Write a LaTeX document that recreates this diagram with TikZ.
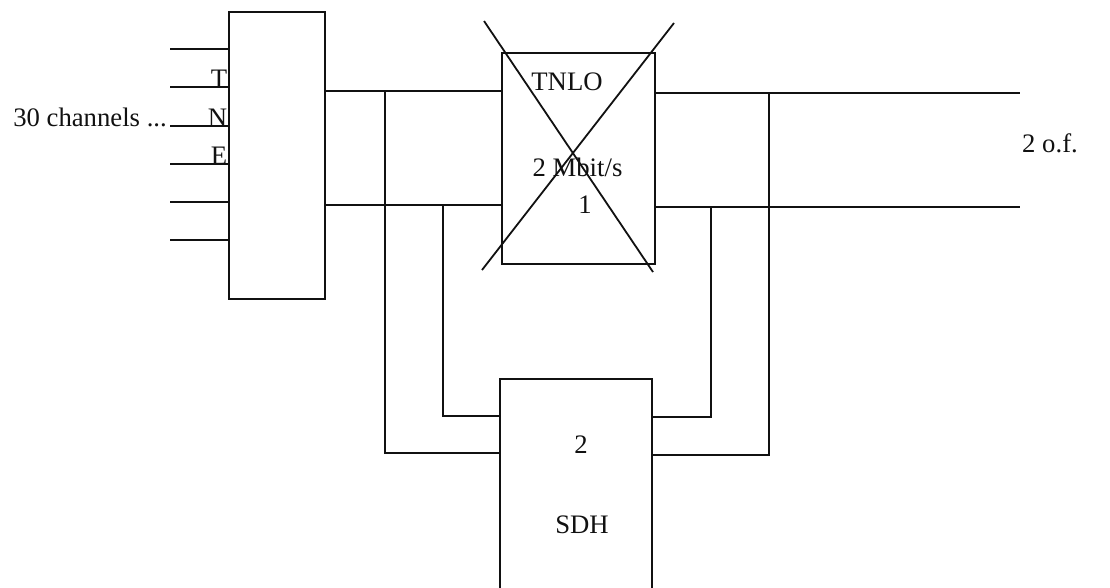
\documentclass[tikz,border=0pt]{standalone}
\usepackage{fontspec}
\setmainfont{Liberation Serif}
\usetikzlibrary{calc}
\definecolor{tnInk}{HTML}{111111}
\newcommand{\TNType}{\rmfamily\fontsize{26.7}{31}\selectfont}
\tikzset{tn/base/.style={x=1pt,y=1pt,line cap=butt,line join=miter,
  every node/.style={font=\TNType,inner sep=0pt,text=tnInk}},
  tn/wire/.style={draw=tnInk,line width=1.4pt},
  tn/cross/.style={draw=tnInk,line width=1.8pt},
  tn/box/.style={draw=tnInk,fill=white,line width=1.4pt,minimum width=#1pt}}
\begin{document}
\begin{tikzpicture}[tn/base,y=-1pt]
  \clip (0,0) rectangle (1110,587);
  % multiplexer with its six inputs
  \node[tn/box=96,minimum height=287pt] (tne) at (277,155.5) {};
  \foreach \y/\name in {49/in1,87/in2,126/in3,164/in4,202/in5,240/in6}{
    \coordinate (\name) at (170,\y);
    \draw[tn/wire] (\name) -- (tne.west |- \name);}
  \node[anchor=base east] (chan) at ($(in3)+(-3,0)$) {30 channels ...};
  \foreach \y/\letter/\name in {87/T/lT,126/N/lN,164/E/lE}
    \node[anchor=base east] (\name) at ($(tne.west |- 0,\y)+(-1,0)$) {\letter};
  % crossed out 2 Mbit/s box
  \node[tn/box=153,minimum height=211pt] (tnlo) at (578.5,158.5) {};
  \node (tnloname) at (567,82) {TNLO};
  \node (tnlorate) at (577.5,167) {2 Mbit/s};
  \node (tnlonum) at (585,205) {1};
  \draw[tn/cross] (484,21) -- (653,272);
  \draw[tn/cross] (674,23) -- (482,270);
  % SDH box, cut by the lower edge
  \node[tn/box=152,minimum height=240pt] (sdh) at (576,499) {};
  \node (sdhnum) at (581,445) {2};
  \node (sdhname) at (582,525) {SDH};
  % two fibres
  \coordinate (of1) at (1020,93);
  \coordinate (of2) at (1020,207);
  \draw[tn/wire] (tne.east |- 0,91) -- (tnlo.west |- 0,91);
  \draw[tn/wire] (tne.east |- 0,205) -- (tnlo.west |- 0,205);
  \draw[tn/wire] (tnlo.east |- of1) -- (of1);
  \draw[tn/wire] (tnlo.east |- of2) -- (of2);
  \node[anchor=west] (ofname) at (1022,143) {2 o.f.};
  % bypass through the SDH box
  \draw[tn/wire] (sdh.west |- 0,453) -| (385,91);
  \draw[tn/wire] (sdh.west |- 0,416) -| (443,205);
  \draw[tn/wire] (sdh.east |- 0,417) -| (711,207);
  \draw[tn/wire] (sdh.east |- 0,455) -| (769,93);
\end{tikzpicture}
\end{document}
